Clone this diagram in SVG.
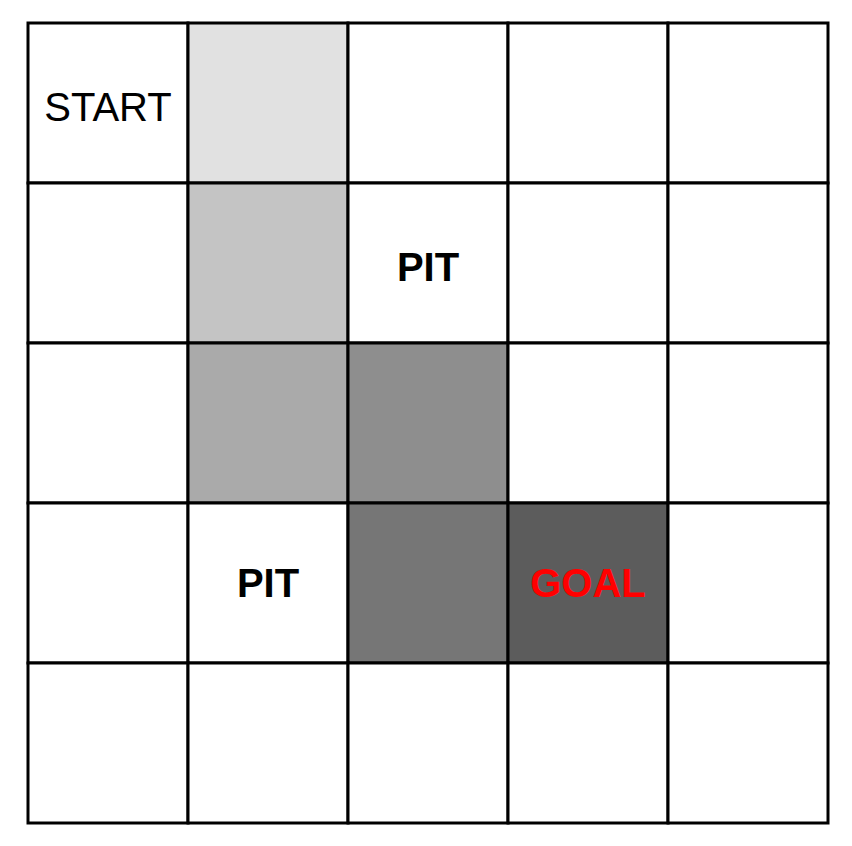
<svg xmlns="http://www.w3.org/2000/svg" width="852" height="846" viewBox="0 0 852 846">
<style>
.cell{stroke:#000;stroke-width:3}
.lbl{font-family:"Liberation Sans",Arial,sans-serif;font-size:40px;text-anchor:middle}
.b{font-weight:bold}
</style>
<rect width="852" height="846" fill="#fff"/>
<g id="cells">
<rect class="cell" x="28" y="23" width="160" height="160" fill="#fff"/>
<rect class="cell" x="188" y="23" width="160" height="160" fill="#e1e1e1"/>
<rect class="cell" x="348" y="23" width="160" height="160" fill="#fff"/>
<rect class="cell" x="508" y="23" width="160" height="160" fill="#fff"/>
<rect class="cell" x="668" y="23" width="160" height="160" fill="#fff"/>
<rect class="cell" x="28" y="183" width="160" height="160" fill="#fff"/>
<rect class="cell" x="188" y="183" width="160" height="160" fill="#c4c4c4"/>
<rect class="cell" x="348" y="183" width="160" height="160" fill="#fff"/>
<rect class="cell" x="508" y="183" width="160" height="160" fill="#fff"/>
<rect class="cell" x="668" y="183" width="160" height="160" fill="#fff"/>
<rect class="cell" x="28" y="343" width="160" height="160" fill="#fff"/>
<rect class="cell" x="188" y="343" width="160" height="160" fill="#aaaaaa"/>
<rect class="cell" x="348" y="343" width="160" height="160" fill="#8e8e8e"/>
<rect class="cell" x="508" y="343" width="160" height="160" fill="#fff"/>
<rect class="cell" x="668" y="343" width="160" height="160" fill="#fff"/>
<rect class="cell" x="28" y="503" width="160" height="160" fill="#fff"/>
<rect class="cell" x="188" y="503" width="160" height="160" fill="#fff"/>
<rect class="cell" x="348" y="503" width="160" height="160" fill="#767676"/>
<rect class="cell" x="508" y="503" width="160" height="160" fill="#5c5c5c"/>
<rect class="cell" x="668" y="503" width="160" height="160" fill="#fff"/>
<rect class="cell" x="28" y="663" width="160" height="160" fill="#fff"/>
<rect class="cell" x="188" y="663" width="160" height="160" fill="#fff"/>
<rect class="cell" x="348" y="663" width="160" height="160" fill="#fff"/>
<rect class="cell" x="508" y="663" width="160" height="160" fill="#fff"/>
<rect class="cell" x="668" y="663" width="160" height="160" fill="#fff"/>
</g>
<g id="start"><text class="lbl" x="108" y="121">START</text></g>
<g id="pit1"><text class="lbl b" x="428" y="281">PIT</text></g>
<g id="pit2"><text class="lbl b" x="268" y="597">PIT</text></g>
<g id="goal"><text class="lbl b" x="588" y="597" fill="#ff0000">GOAL</text></g>
<g id="connectors"/>
</svg>
